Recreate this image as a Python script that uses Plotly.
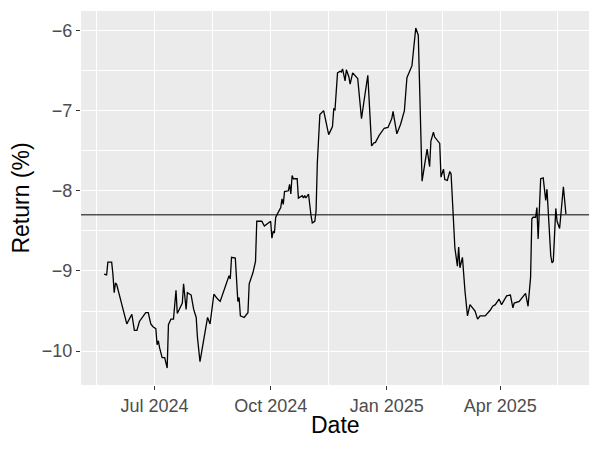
import pandas as pd
import plotly.graph_objects as go

# series (daily return, %)
dates = [
    "2024-05-22", "2024-05-24", "2024-05-25", "2024-05-28", "2024-05-29", "2024-05-30", "2024-05-31",
    "2024-06-01", "2024-06-09", "2024-06-13", "2024-06-15", "2024-06-17", "2024-06-19", "2024-06-24",
    "2024-06-26", "2024-06-28", "2024-06-29", "2024-06-30", "2024-07-02", "2024-07-03", "2024-07-04",
    "2024-07-05", "2024-07-07", "2024-07-09", "2024-07-11", "2024-07-12", "2024-07-14", "2024-07-16",
    "2024-07-18", "2024-07-19", "2024-07-23", "2024-07-24", "2024-07-26", "2024-07-27", "2024-07-30",
    "2024-08-01", "2024-08-03", "2024-08-04", "2024-08-06", "2024-08-12", "2024-08-14", "2024-08-17",
    "2024-08-20", "2024-08-22", "2024-08-29", "2024-08-30", "2024-08-31", "2024-09-03", "2024-09-05",
    "2024-09-06", "2024-09-07", "2024-09-10", "2024-09-13", "2024-09-14", "2024-09-17", "2024-09-19",
    "2024-09-20", "2024-09-24", "2024-09-26", "2024-09-28", "2024-10-01", "2024-10-02", "2024-10-03",
    "2024-10-04", "2024-10-05", "2024-10-09", "2024-10-10", "2024-10-11", "2024-10-12", "2024-10-15",
    "2024-10-16", "2024-10-17", "2024-10-18", "2024-10-19", "2024-10-22", "2024-10-23", "2024-10-26",
    "2024-10-27", "2024-10-28", "2024-10-29", "2024-10-31", "2024-11-02", "2024-11-03", "2024-11-05",
    "2024-11-06", "2024-11-07", "2024-11-09", "2024-11-12", "2024-11-16", "2024-11-19", "2024-11-20",
    "2024-11-21", "2024-11-23", "2024-11-25", "2024-11-26", "2024-11-27", "2024-11-29", "2024-11-30",
    "2024-12-02", "2024-12-03", "2024-12-05", "2024-12-09", "2024-12-12", "2024-12-14", "2024-12-17",
    "2024-12-20", "2024-12-22", "2024-12-23", "2024-12-26", "2024-12-30", "2025-01-02", "2025-01-05",
    "2025-01-06", "2025-01-09", "2025-01-12", "2025-01-15", "2025-01-17", "2025-01-21", "2025-01-23",
    "2025-01-24", "2025-01-26", "2025-01-29", "2025-01-31", "2025-02-02", "2025-02-04", "2025-02-05",
    "2025-02-07", "2025-02-08", "2025-02-12", "2025-02-13", "2025-02-15", "2025-02-16", "2025-02-18",
    "2025-02-20", "2025-02-21", "2025-02-23", "2025-02-24", "2025-02-26", "2025-02-27", "2025-02-28",
    "2025-03-02", "2025-03-04", "2025-03-06", "2025-03-08", "2025-03-12", "2025-03-14", "2025-03-16",
    "2025-03-20", "2025-03-24", "2025-03-26", "2025-03-28", "2025-03-31", "2025-04-02", "2025-04-06",
    "2025-04-09", "2025-04-11", "2025-04-12", "2025-04-16", "2025-04-20", "2025-04-21", "2025-04-23",
    "2025-04-25", "2025-04-26", "2025-04-27", "2025-04-29", "2025-04-30", "2025-05-01", "2025-05-02",
    "2025-05-03", "2025-05-05", "2025-05-07", "2025-05-08", "2025-05-09", "2025-05-11", "2025-05-12",
    "2025-05-13", "2025-05-15", "2025-05-16", "2025-05-18", "2025-05-21", "2025-05-23",
]
returns = [
    -9.04, -9.05, -8.89, -8.89, -9.04, -9.27, -9.15,
    -9.17, -9.66, -9.54, -9.74, -9.74, -9.63, -9.52,
    -9.52, -9.66, -9.68, -9.70, -9.72, -9.92, -9.87,
    -9.96, -10.08, -10.08, -10.21, -9.67, -9.60, -9.60,
    -9.24, -9.53, -9.40, -9.16, -9.48, -9.27, -9.30,
    -9.48, -9.58, -9.83, -10.13, -9.58, -9.66, -9.29,
    -9.35, -9.38, -9.06, -9.10, -8.83, -8.84, -9.38,
    -9.33, -9.56, -9.58, -9.52, -9.16, -9.02, -8.88,
    -8.38, -8.38, -8.44, -8.42, -8.38, -8.59, -8.51,
    -8.52, -8.33, -8.21, -8.10, -8.17, -8.01, -8.00,
    -7.92, -8.04, -7.81, -7.85, -7.85, -8.09, -8.06,
    -8.09, -8.06, -8.09, -8.04, -8.31, -8.40, -8.38,
    -8.25, -7.65, -7.05, -7.00, -7.30, -7.20, -6.98,
    -6.99, -6.53, -6.51, -6.52, -6.48, -6.63, -6.49,
    -6.58, -6.67, -6.53, -6.60, -7.10, -6.88, -6.56,
    -7.44, -7.40, -7.40, -7.31, -7.22, -7.21, -7.10,
    -7.01, -7.29, -7.17, -7.00, -6.59, -6.44, -6.06,
    -5.97, -6.06, -7.88, -7.68, -7.48, -7.70, -7.38,
    -7.27, -7.33, -7.41, -7.83, -7.73, -7.86, -7.87,
    -7.76, -7.79, -8.46, -8.71, -8.94, -8.70, -8.96,
    -8.83, -9.25, -9.56, -9.42, -9.50, -9.60, -9.56,
    -9.56, -9.49, -9.44, -9.42, -9.35, -9.42, -9.31,
    -9.30, -9.46, -9.40, -9.38, -9.31, -9.28, -9.44,
    -9.08, -8.35, -8.33, -8.33, -8.21, -8.60, -8.15,
    -7.85, -7.84, -8.12, -7.98, -8.23, -8.81, -8.90,
    -8.88, -8.22, -8.38, -8.47, -7.95, -8.29,
]
ref_level = -8.30

x_ticks = ["2024-07-01", "2024-10-01", "2025-01-01", "2025-04-01"]
x_ticktext = ["Jul 2024", "Oct 2024", "Jan 2025", "Apr 2025"]
x_minor = ["2024-05-16", "2024-08-16", "2024-11-16", "2025-02-14", "2025-05-16"]
y_ticks = [-10, -9, -8, -7, -6]

df = pd.DataFrame({"date": pd.to_datetime(dates), "ret": returns})

# ggplot-like 5% expansion on both axes
x_span = df["date"].max() - df["date"].min()
x_range = [df["date"].min() - 0.05 * x_span, df["date"].max() + 0.05 * x_span]
y_span = df["ret"].max() - df["ret"].min()
y_range = [df["ret"].min() - 0.05 * y_span, df["ret"].max() + 0.05 * y_span]

fig = go.Figure()
fig.add_trace(go.Scatter(x=df["date"], y=df["ret"], mode="lines",
                         line=dict(color="black", width=1.3), showlegend=False))
fig.add_hline(y=ref_level, line=dict(color="black", width=1))

font_family = "Liberation Sans, Arial, sans-serif"
axis_common = dict(
    showline=False, zeroline=False, showgrid=True, gridcolor="white", gridwidth=1.4,
    ticks="outside", ticklen=4, tickwidth=1.3, tickcolor="#333333",
    tickfont=dict(family=font_family, size=18, color="#4D4D4D"),
    title_font=dict(family=font_family, size=23, color="black"),
)

fig.update_xaxes(
    **axis_common, range=x_range, tickvals=pd.to_datetime(x_ticks), ticktext=x_ticktext,
    minor=dict(tickvals=pd.to_datetime(x_minor), showgrid=True, gridcolor="white", gridwidth=0.7, ticklen=0),
)
fig.update_yaxes(
    **axis_common, range=y_range, tickvals=y_ticks,
    minor=dict(dtick=0.5, tick0=-10.5, showgrid=True, gridcolor="white", gridwidth=0.7, ticklen=0),
    title_text="Return (%)", title_standoff=6,
)

# x title as an annotation: plotly's own title sits a few px too low
fig.add_annotation(text="Date", xref="paper", yref="paper", x=0.5, y=0,
                   yanchor="middle", yshift=-40, showarrow=False,
                   font=dict(family=font_family, size=23, color="black"))

# page body has an 8px margin, so the margins below are shifted by that much
fig.update_layout(
    width=600, height=450, autosize=False,
    paper_bgcolor="white", plot_bgcolor="#EBEBEB",
    margin=dict(l=73, r=19, t=3, b=73),
    font=dict(family=font_family),
)

fig.write_html("out.html")
